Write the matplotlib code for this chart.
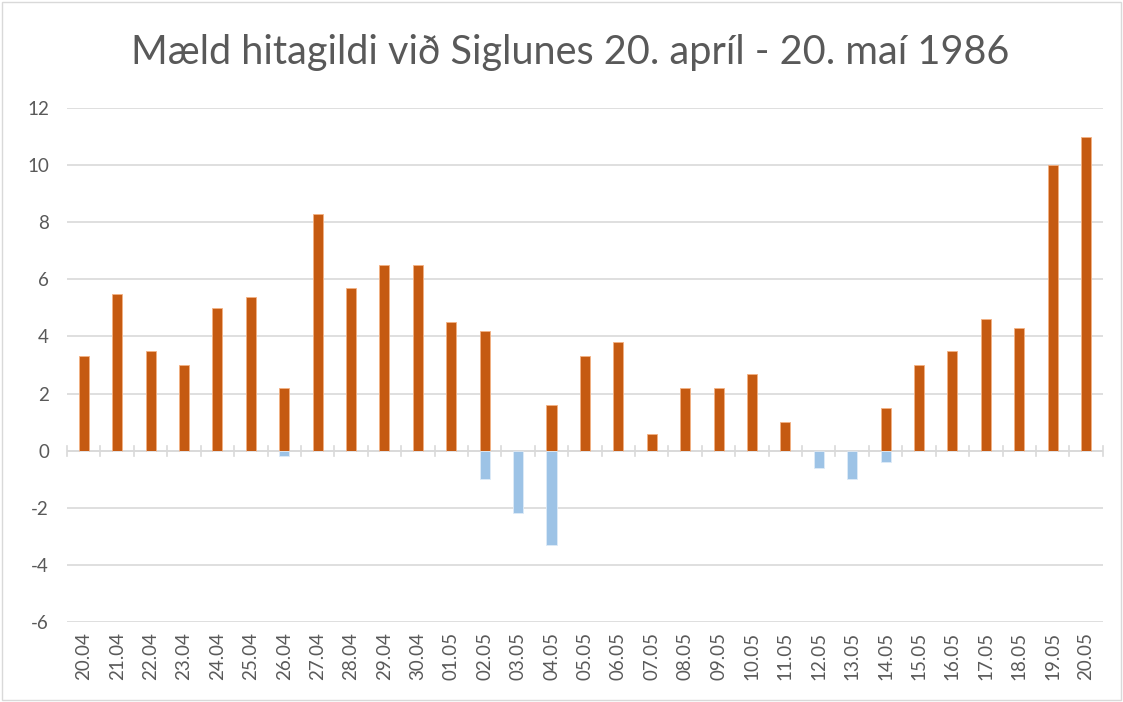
import matplotlib
matplotlib.use("Agg")
import matplotlib.pyplot as plt
import numpy as np

days = ["20.04", "21.04", "22.04", "23.04", "24.04", "25.04", "26.04", "27.04",
        "28.04", "29.04", "30.04", "01.05", "02.05", "03.05", "04.05", "05.05",
        "06.05", "07.05", "08.05", "09.05", "10.05", "11.05", "12.05", "13.05",
        "14.05", "15.05", "16.05", "17.05", "18.05", "19.05", "20.05"]
hiti_yfir = [3.3, 5.5, 3.5, 3.0, 5.0, 5.4, 2.2, 8.3, 5.7, 6.5, 6.5, 4.5, 4.2, 0.0,
             1.6, 3.3, 3.8, 0.6, 2.2, 2.2, 2.7, 1.0, 0.0, 0.0, 1.5, 3.0, 3.5, 4.6,
             4.3, 10.0, 11.0]
hiti_undir = [0, 0, 0, 0, 0, 0, -0.2, 0, 0, 0, 0, 0, -1.0, -2.2, -3.3, 0, 0, 0, 0,
              0, 0, 0, -0.6, -1.0, -0.4, 0, 0, 0, 0, 0, 0]
yticks = [-6, -4, -2, 0, 2, 4, 6, 8, 10, 12]
title = "Mæld hitagildi við Siglunes 20. apríl - 20. maí 1986"

plt.rcParams['font.family'] = ['Lato', 'DejaVu Sans']
fig = plt.figure(figsize=(11.23, 7.02), dpi=100)
ax = fig.add_axes([0.0597, 0.114, 0.9223, 0.732])
x = np.arange(len(days))
w = 0.3
ax.bar(x, hiti_yfir, width=w, color="#c55a11", edgecolor="#f4b183", linewidth=0.6, zorder=3)
ax.bar(x, hiti_undir, width=w, color="#9dc3e6", edgecolor="#deebf7", linewidth=0.6, zorder=3)

ax.set_ylim(-6, 12)
ax.set_xlim(-0.5, len(days) - 0.5)
ax.set_yticks(yticks)
ax.set_yticklabels([str(v) for v in yticks])
ax.set_xticks(x)
ax.set_xticklabels(days, rotation=90)
ax.grid(axis='y', color="#d9d9d9", linewidth=1.2, zorder=0)
ax.axhline(0, color="#d9d9d9", linewidth=1.2, zorder=2)
for b in np.arange(-0.5, len(days), 1.0):
    ax.plot([b, b], [-0.18, 0.18], color="#d9d9d9", linewidth=1.2, zorder=2, clip_on=False)
for s in ax.spines.values():
    s.set_visible(False)
ax.tick_params(axis='both', length=0, colors="#595959", labelsize=13.5)
ax.tick_params(axis='x', pad=7)
ax.tick_params(axis='y', pad=13)

fig.text(0.508, 0.925, title, ha='center', va='center', fontsize=28.5,
         fontweight='normal', color="#595959")
fig.add_artist(plt.Rectangle((0.002, 0.003), 0.996, 0.994, transform=fig.transFigure,
                             fill=False, edgecolor="#d9d9d9", linewidth=1))
fig.savefig("out.png", dpi=100)
